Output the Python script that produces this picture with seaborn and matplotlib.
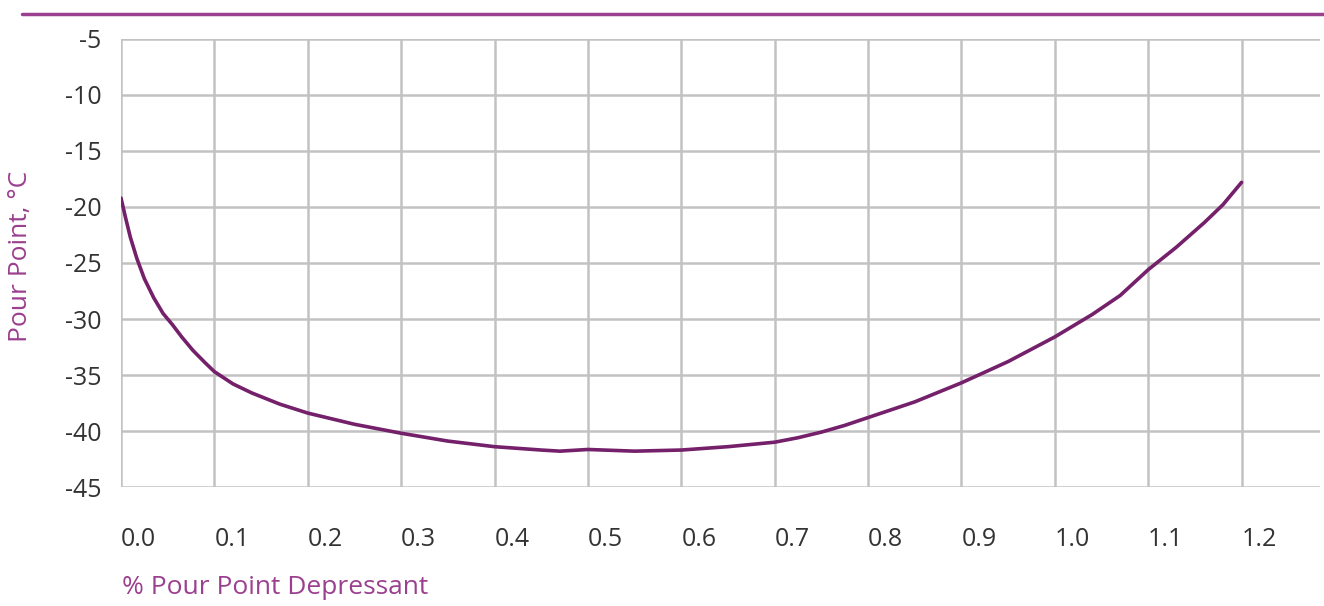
import numpy as np
import matplotlib.pyplot as plt
import seaborn as sns
import pandas as pd
from matplotlib.lines import Line2D

# values
depressant = [0.0, 0.005, 0.01, 0.017, 0.025, 0.035, 0.045, 0.055, 0.065, 0.077, 0.09,
              0.1, 0.12, 0.14, 0.17, 0.2, 0.25, 0.3, 0.35, 0.4, 0.45, 0.47, 0.5,
              0.55, 0.6, 0.65, 0.7, 0.725, 0.75, 0.775, 0.8, 0.85, 0.9, 0.95,
              1.0, 1.04, 1.07, 1.1, 1.13, 1.16, 1.18, 1.2]
pour_point = [-19.2, -21.0, -22.7, -24.6, -26.4, -28.1, -29.5, -30.5, -31.6, -32.8, -33.9,
              -34.7, -35.8, -36.6, -37.6, -38.4, -39.4, -40.2, -40.9, -41.4, -41.7, -41.8, -41.65,
              -41.8, -41.7, -41.4, -41.0, -40.6, -40.1, -39.5, -38.8, -37.4, -35.7, -33.8,
              -31.6, -29.6, -27.9, -25.6, -23.6, -21.4, -19.8, -17.8]
x_ticks = [0.0, 0.1, 0.2, 0.3, 0.4, 0.5, 0.6, 0.7, 0.8, 0.9, 1.0, 1.1, 1.2]
y_ticks = [-45, -40, -35, -30, -25, -20, -15, -10, -5]

df = pd.DataFrame({'pct': depressant, 'pp': pour_point})

sns.set_style('white')
plt.rcParams['font.family'] = ['Open Sans', 'DejaVu Sans']

purple = '#9b3f8f'
grid_col = '#c2c2c2'

fig = plt.figure(figsize=(13.24, 6.06), dpi=100)
ax = fig.add_axes([121 / 1324, 119 / 606, 1199 / 1324, 448 / 606])

sns.lineplot(data=df, x='pct', y='pp', ax=ax, color='#74206a', linewidth=2.6)
for ln in ax.lines:
    ln.set_solid_joinstyle('round')
    ln.set_solid_capstyle('round')

ax.set_xlim(0, 1.284)
ax.set_ylim(-45, -5)
ax.set_xticks(x_ticks)
ax.set_xticklabels([f'{v:.1f}' for v in x_ticks])
ax.set_yticks(y_ticks)
ax.set_yticklabels([str(v) for v in y_ticks])
ax.grid(True, color=grid_col, linewidth=1.8)
for s in ax.spines.values():
    s.set_visible(False)

ax.tick_params(axis='y', length=8, width=1.8, color=grid_col, pad=6,
               labelsize=18, labelcolor='#333333')
ax.tick_params(axis='x', length=11.5, width=1.8, color=grid_col, pad=17,
               labelsize=18, labelcolor='#333333')
for lab in ax.get_xticklabels():
    lab.set_horizontalalignment('left')
ax.set_xlabel('')
ax.set_ylabel('')

fig.text(122 / 1324, 1 - 588 / 606, '% Pour Point Depressant', ha='left', va='center',
         color=purple, fontsize=19)
fig.text(21 / 1324, 1 - 256 / 606, 'Pour Point, °C', rotation=90, ha='center', va='center',
         color=purple, fontsize=19)

# decorative rule at the top
fig.add_artist(Line2D([22 / 1324, 1], [1 - 14 / 606, 1 - 14 / 606], transform=fig.transFigure,
                      color=purple, linewidth=2.5))

fig.savefig('out.png', dpi=100)
